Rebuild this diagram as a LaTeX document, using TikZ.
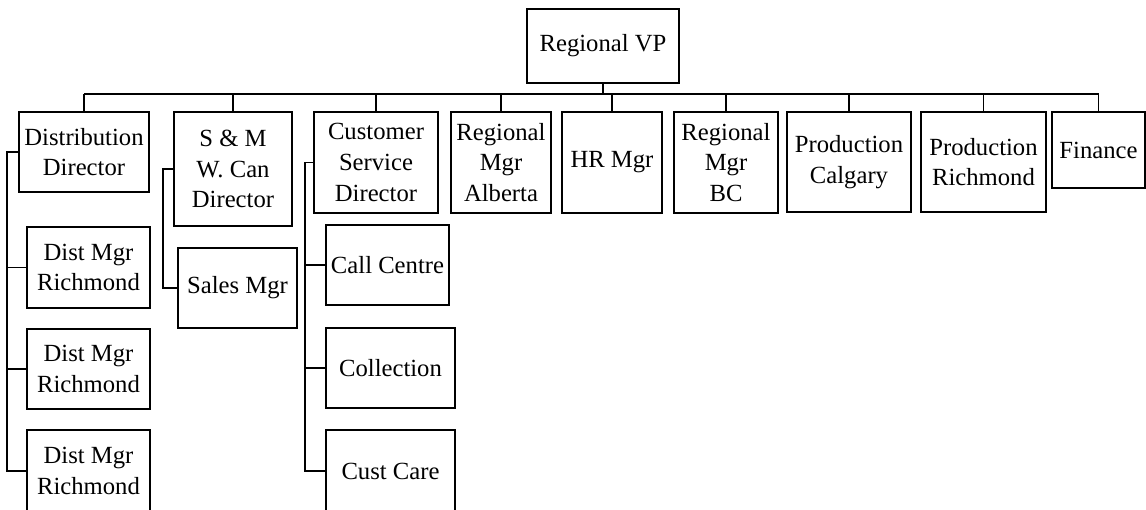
\documentclass[tikz,border=0pt]{standalone}
\usepackage{fontspec}
\setmainfont{Liberation Serif}

\tikzset{every picture/.style={line width=1.1pt}}
\tikzset{unit/.style={draw, inner sep=0pt, align=center, font=\fontsize{18.5}{23}\selectfont}}

\begin{document}
\begin{tikzpicture}[x=0.75pt,y=0.75pt,yscale=-1,xscale=1]
\clip (0,0) rectangle (1146,510);

% Text Node
\node [unit, minimum width=114pt, minimum height=55.5pt] (vp) at (603,46) {Regional VP};
% Text Node
\node [unit, minimum width=97.5pt, minimum height=60pt] (dd) at (84,152) {Distribution\\Director};
% Text Node
\node [unit, minimum width=88.5pt, minimum height=85.5pt] (smd) at (233,169) {S \& M\\W. Can\\Director};
% Text Node
\node [unit, minimum width=93pt, minimum height=75.75pt] (csd) at (376,162.5) {Customer\\Service\\Director};
% Text Node
\node [unit, minimum width=75pt, minimum height=75.75pt] (rma) at (501,162.5) {Regional\\Mgr\\Alberta};
% Text Node
\node [unit, minimum width=75pt, minimum height=75.75pt] (hr) at (612,162.5) {HR Mgr};
% Text Node
\node [unit, minimum width=78pt, minimum height=75.75pt] (rmb) at (726,162.5) {Regional\\Mgr\\BC};
% Text Node
\node [unit, minimum width=93pt, minimum height=75pt] (pc) at (849,162) {Production\\Calgary};
% Text Node
\node [unit, minimum width=93.75pt, minimum height=75pt] (pr) at (983.5,162) {Production\\Richmond};
% Text Node
\node [unit, minimum width=69.75pt, minimum height=57pt] (fin) at (1098.5,150) {Finance};

% Text Node
\node [unit, minimum width=92.25pt, minimum height=60.75pt] (dm1) at (88.5,267.5) {Dist Mgr\\Richmond};
% Text Node
\node [unit, minimum width=92.25pt, minimum height=60pt] (dm2) at (88.5,369) {Dist Mgr\\Richmond};
% Text Node
\node [unit, minimum width=92.25pt, minimum height=61.5pt] (dm3) at (88.5,471) {Dist Mgr\\Richmond};
% Text Node
\node [unit, minimum width=89.25pt, minimum height=60pt] (sm) at (237.5,288) {Sales Mgr};
% Text Node
\node [unit, minimum width=92.25pt, minimum height=60pt] (cc) at (387.5,265) {Call Centre};
% Text Node
\node [unit, minimum width=96.75pt, minimum height=60pt] (col) at (390.5,368) {Collection};
% Text Node
\node [unit, minimum width=96.75pt, minimum height=61.5pt] (cuc) at (390.5,471) {Cust Care};

%Straight Lines
\coordinate (bus) at (603,94);
\draw (vp.south) -- (bus);
\draw (dd.north |- bus) -- (fin.north |- bus);
\foreach \n in {dd,smd,csd,rma,hr,rmb,pc,pr,fin}
  \draw (\n.north) -- (\n.north |- bus);

%Straight Lines
\coordinate (dspine) at (7,0);
\draw (dd.west) -| (dspine |- dm3.west) -- (dm3.west);
\foreach \n in {dm1,dm2}
  \draw (\n.west) -- (\n.west -| dspine);
%Straight Lines
\coordinate (sspine) at (163,0);
\draw (smd.west) -| (sspine |- sm.west) -- (sm.west);
%Straight Lines
\coordinate (cspine) at (305,0);
\draw (csd.west) -| (cspine |- cuc.west) -- (cuc.west);
\foreach \n in {cc,col}
  \draw (\n.west) -- (\n.west -| cspine);

\end{tikzpicture}
\end{document}
